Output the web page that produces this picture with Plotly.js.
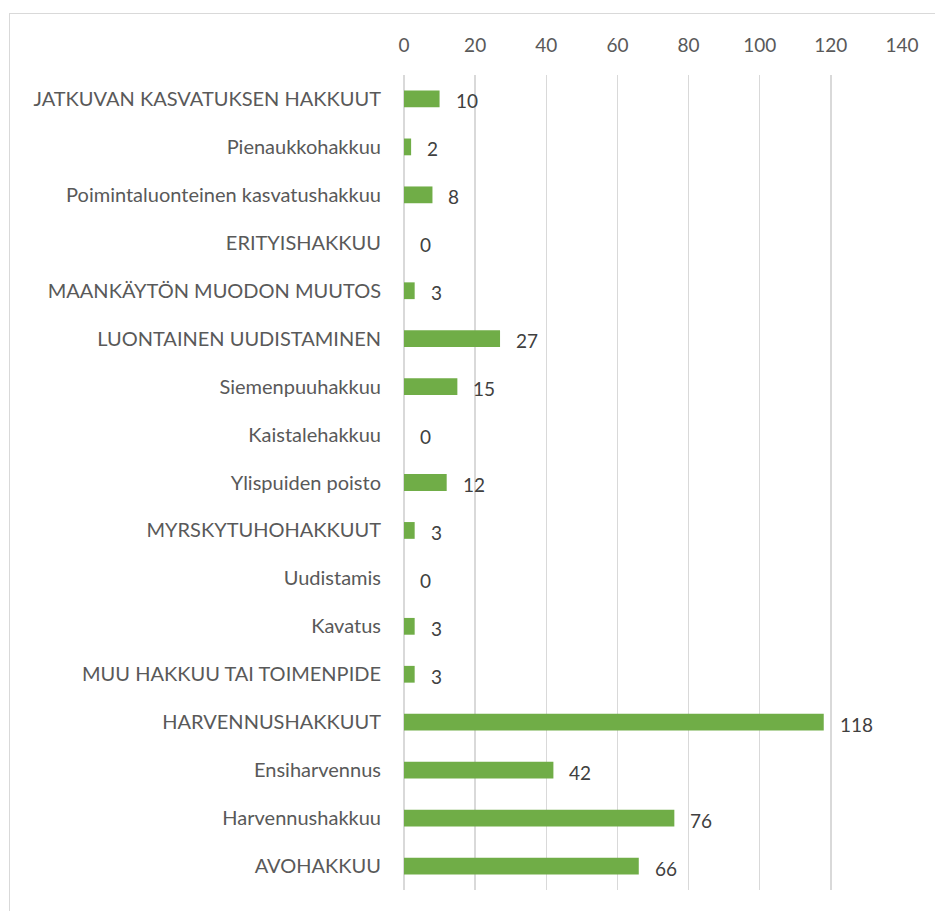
<!DOCTYPE html>
<html><head><meta charset="utf-8">
<script src="https://cdn.plot.ly/plotly-3.0.1.min.js"></script>
<style>
html,body{margin:0;padding:0;background:#fff;}
#wrap{position:relative;width:935px;height:911px;overflow:hidden;}
#chart{position:absolute;left:0;top:0;width:935px;height:911px;}
#frame{position:absolute;left:9px;top:13px;width:1000px;height:1000px;border:1.5px solid #d9d9d9;pointer-events:none;}
</style></head>
<body><div id="wrap"><div id="chart"></div><div id="frame"></div></div>
<script>
const categories = [
  "JATKUVAN KASVATUKSEN HAKKUUT",
  "Pienaukkohakkuu",
  "Poimintaluonteinen kasvatushakkuu",
  "ERITYISHAKKUU",
  "MAANKÄYTÖN MUODON MUUTOS",
  "LUONTAINEN UUDISTAMINEN",
  "Siemenpuuhakkuu",
  "Kaistalehakkuu",
  "Ylispuiden poisto",
  "MYRSKYTUHOHAKKUUT",
  "Uudistamis",
  "Kavatus",
  "MUU HAKKUU TAI TOIMENPIDE",
  "HARVENNUSHAKKUUT",
  "Ensiharvennus",
  "Harvennushakkuu",
  "AVOHAKKUU"
];
const values = [10, 2, 8, 0, 3, 27, 15, 0, 12, 3, 0, 3, 3, 118, 42, 76, 66];
const tickVals = [0, 20, 40, 60, 80, 100, 120, 140];

const font = "Lato, 'Open Sans', sans-serif";

const annotations = categories.map((c, i) => ({
  x: values[i], y: c, xref: 'x', yref: 'y',
  text: String(values[i]), showarrow: false,
  xanchor: 'left', yanchor: 'middle', xshift: 14, yshift: -2,
  font: {family: font, size: 19, color: '#404040'}
}));

Plotly.newPlot('chart', [{
  type: 'bar', orientation: 'h',
  x: values, y: categories,
  width: 0.35,
  marker: {color: '#70ad47'},
  hoverinfo: 'none'
}], {
  width: 935, height: 911,
  margin: {l: 404, r: 33, t: 75, b: 21, pad: 0},
  paper_bgcolor: '#fff', plot_bgcolor: '#fff',
  showlegend: false,
  xaxis: {
    side: 'top', range: [0, 140], tickvals: tickVals,
    showgrid: true, gridcolor: '#d9d9d9', gridwidth: 1.5,
    zeroline: true, zerolinecolor: '#d9d9d9', zerolinewidth: 1.5,
    showline: false, ticks: '', ticklabelstandoff: 18,
    tickfont: {family: font, size: 19, color: '#595959'}
  },
  yaxis: {
    type: 'category', autorange: 'reversed',
    showgrid: false, zeroline: false, showline: false,
    ticks: '', ticklabelstandoff: 22,
    tickfont: {family: font, size: 20, color: '#595959'}
  },
  annotations: annotations
}, {staticPlot: true});
</script></body></html>
